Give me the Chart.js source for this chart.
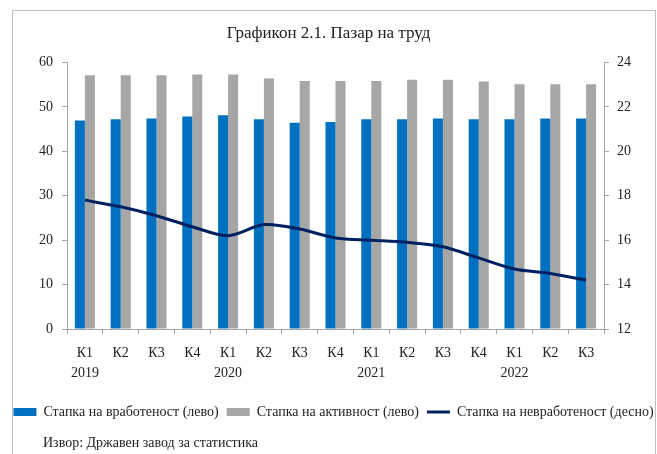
<!DOCTYPE html>
<html>
<head>
<meta charset="utf-8">
<script src="https://cdn.jsdelivr.net/npm/chart.js@4/dist/chart.umd.min.js"></script>
<style>
  html, body { margin: 0; padding: 0; background: #fff; }
  #wrap { width: 657px; height: 454px; }
</style>
</head>
<body>
<div id="wrap"><canvas id="laborChart" width="657" height="454"></canvas></div>
<script>
const quarters = ['К1', 'К2', 'К3', 'К4', 'К1', 'К2', 'К3', 'К4', 'К1', 'К2', 'К3', 'К4', 'К1', 'К2', 'К3'];
const years = ['2019', '', '', '', '2020', '', '', '', '2021', '', '', '', '2022', '', ''];

// стапки во %
const employmentRate = [46.9, 47.2, 47.4, 47.8, 48.1, 47.2, 46.4, 46.6, 47.2, 47.2, 47.4, 47.2, 47.2, 47.4, 47.4];
const activityRate = [57.1, 57.1, 57.1, 57.3, 57.3, 56.4, 55.8, 55.8, 55.8, 56.1, 56.1, 55.7, 55.1, 55.1, 55.1];
const unemploymentRate = [17.8, 17.5, 17.1, 16.6, 16.2, 16.7, 16.5, 16.1, 16.0, 15.9, 15.7, 15.2, 14.7, 14.5, 14.2];

const leftTicks = [0, 60, 10];
const rightTicks = [12, 24, 2];

const FONT = 'Liberation Serif';
const axisGray = '#a6a6a6';
const textColor = '#222';

const frameAndSource = {
    id: 'frameAndSource',
    afterLayout(chart) {
        // легендата е малку поместена надесно
        chart.legend.left += 5;
        chart.legend.right += 5;
    },
    beforeDraw(chart) {
        const ctx = chart.ctx;
        ctx.save();
        ctx.fillStyle = '#fff';
        ctx.fillRect(0, 0, chart.width, chart.height);
        ctx.strokeStyle = '#bfbfbf';
        ctx.lineWidth = 1;
        ctx.strokeRect(12.5, 10.5, 643, 460);
        ctx.restore();
    },
    afterDraw(chart) {
        const ctx = chart.ctx;
        ctx.save();
        ctx.font = '14px "' + FONT + '"';
        ctx.fillStyle = textColor;
        ctx.textBaseline = 'middle';
        ctx.fillText('Извор: Државен завод за статистика', 43, 443);
        ctx.restore();
    }
};

const labels = quarters.map((q, i) => [q, years[i]]);

new Chart(document.getElementById('laborChart'), {
    type: 'bar',
    data: {
        labels: labels,
        datasets: [
            {
                label: 'Стапка на вработеност (лево)',
                data: employmentRate,
                backgroundColor: '#0070c0',
                yAxisID: 'y',
                order: 1,
                categoryPercentage: 0.56,
                barPercentage: 1.0
            },
            {
                label: 'Стапка на активност (лево)',
                data: activityRate,
                backgroundColor: '#a6a6a6',
                yAxisID: 'y',
                order: 1,
                categoryPercentage: 0.56,
                barPercentage: 1.0
            },
            {
                type: 'line',
                label: 'Стапка на невработеност (десно)',
                data: unemploymentRate,
                borderColor: '#002060',
                backgroundColor: '#002060',
                borderWidth: 3,
                pointRadius: 0,
                tension: 0.3,
                yAxisID: 'y1',
                order: 0
            }
        ]
    },
    options: {
        responsive: false,
        animation: false,
        layout: {
            padding: {top: 10, left: 0, right: 0, bottom: 25}
        },
        plugins: {
            title: {
                display: true,
                text: 'Графикон 2.1. Пазар на труд',
                color: textColor,
                font: {family: FONT, size: 17, weight: 'normal', lineHeight: 1.2},
                padding: {top: 13, bottom: 19}
            },
            legend: {
                position: 'bottom',
                labels: {
                    color: textColor,
                    font: {family: FONT, size: 14},
                    usePointStyle: true,
                    pointStyleWidth: 23,
                    boxWidth: 23,
                    boxHeight: 8,
                    padding: 8,
                    sort: (a, b) => a.datasetIndex - b.datasetIndex,
                    generateLabels(chart) {
                        const items = Chart.defaults.plugins.legend.labels.generateLabels(chart);
                        items.forEach(item => {
                            const ds = chart.data.datasets[item.datasetIndex];
                            if (ds.type === 'line') {
                                item.pointStyle = 'line';
                                item.strokeStyle = ds.borderColor;
                                item.lineWidth = 3;
                            } else {
                                item.pointStyle = 'rect';
                                item.fillStyle = ds.backgroundColor;
                                item.strokeStyle = ds.backgroundColor;
                                item.lineWidth = 0;
                            }
                        });
                        return items;
                    }
                }
            },
            tooltip: {enabled: false}
        },
        scales: {
            x: {
                grid: {
                    offset: true,
                    drawOnChartArea: false,
                    drawTicks: true,
                    tickLength: 5,
                    color: axisGray
                },
                border: {color: axisGray},
                ticks: {
                    color: textColor,
                    font: {family: FONT, size: 14, lineHeight: 1.4},
                    maxRotation: 0,
                    autoSkip: false,
                    padding: 10
                },
                afterFit(scale) {
                    scale.height = 68;
                }
            },
            y: {
                position: 'left',
                min: leftTicks[0],
                max: leftTicks[1],
                grid: {
                    drawOnChartArea: false,
                    tickLength: 5,
                    color: axisGray
                },
                border: {color: axisGray},
                ticks: {
                    stepSize: leftTicks[2],
                    color: textColor,
                    font: {family: FONT, size: 14},
                    padding: 9
                },
                afterFit(scale) {
                    scale.width = 67;
                }
            },
            y1: {
                position: 'right',
                min: rightTicks[0],
                max: rightTicks[1],
                grid: {
                    drawOnChartArea: false,
                    tickLength: 5,
                    color: axisGray
                },
                border: {color: axisGray},
                ticks: {
                    stepSize: rightTicks[2],
                    color: textColor,
                    font: {family: FONT, size: 14},
                    padding: 8
                },
                afterFit(scale) {
                    scale.width = 53;
                }
            }
        }
    },
    plugins: [frameAndSource]
});
</script>
</body>
</html>
